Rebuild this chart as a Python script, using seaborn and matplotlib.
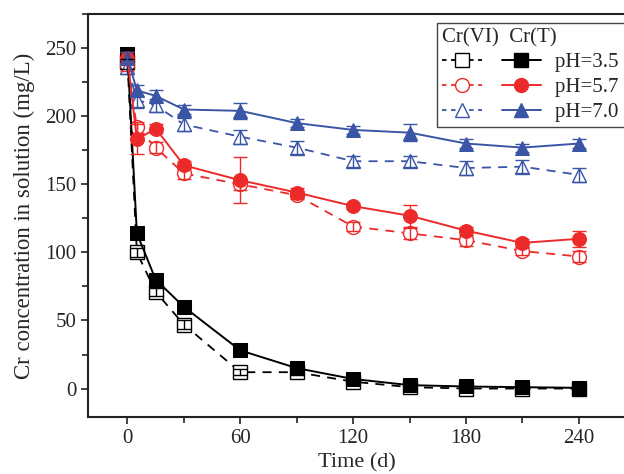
import seaborn as sns
import numpy as np
import pandas as pd
import matplotlib.pyplot as plt
from matplotlib.ticker import MultipleLocator

# time points (days)
time = [0, 5, 15, 30, 60, 90, 120, 150, 180, 210, 240]

# Cr(T) - solid lines, filled markers
crt_35 = [246, 114, 80, 60, 28, 15, 7, 2.5, 1.5, 1, 0.5]
crt_57 = [243, 183, 191, 164, 153, 144, 134, 127, 116, 107, 110]
crt_70 = [243, 219, 215, 205, 204, 195, 190, 188, 180, 177, 180]
crt_35_err = [4, 3, 3, 2, 2, 2, 2, 1, 1, 1, 1]
crt_57_err = [4, 11, 3, 3, 17, 3, 2, 8, 3, 3, 6]
crt_70_err = [4, 4, 4, 3, 6, 3, 3, 6, 3, 3, 3]

# Cr(VI) - dashed lines, open markers
crvi_35 = [240, 100, 71, 47, 12, 12, 5, 1, 0, 0, 0]
crvi_57 = [238, 192, 177, 158, 150, 142, 119, 114, 109, 101, 97]
crvi_70 = [236, 212, 208, 194, 185, 177, 167, 167, 162, 163, 157]
crvi_35_err = [5, 3, 3, 3, 2, 2, 2, 1, 1, 1, 1]
crvi_57_err = [5, 4, 4, 4, 4, 3, 3, 4, 4, 3, 4]
crvi_70_err = [5, 6, 5, 5, 5, 5, 4, 4, 5, 5, 5]

ph_labels = ["pH=3.5 ", "pH=5.7 ", "pH=7.0 "]
colors = ["black", "#ED2A2A", "#3A55A6"]
markers = ["s", "o", "^"]

sns.set_style("ticks")
plt.rcParams['font.family'] = ['Liberation Serif', 'DejaVu Serif']

fig, ax = plt.subplots(figsize=(6.24, 4.74), dpi=100)
fig.subplots_adjust(left=0.141, right=1.003, bottom=0.12, top=0.97)

vi_handles = []
t_handles = []
for i in range(3):
    c = colors[i]
    m = markers[i]
    vi = [crvi_35, crvi_57, crvi_70][i]
    vi_e = [crvi_35_err, crvi_57_err, crvi_70_err][i]
    tt = [crt_35, crt_57, crt_70][i]
    tt_e = [crt_35_err, crt_57_err, crt_70_err][i]

    ax.errorbar(time, vi, yerr=vi_e, fmt='none', ecolor=c, elinewidth=1.0,
                capsize=5, capthick=1.0, zorder=3)
    sns.lineplot(x=time, y=vi, ax=ax, color=c, linestyle=(0, (5, 4)), linewidth=1.3,
                 marker=m, markersize=10, markerfacecolor='white', markeredgecolor=c,
                 markeredgewidth=1.0, zorder=2)
    ax.errorbar(time, tt, yerr=tt_e, fmt='none', ecolor=c, elinewidth=1.0,
                capsize=5, capthick=1.0, zorder=5)
    sns.lineplot(x=time, y=tt, ax=ax, color=c, linestyle='-', linewidth=1.4,
                 marker=m, markersize=10, markerfacecolor=c, markeredgecolor=c,
                 zorder=4)

    vi_handles.append(plt.Line2D([], [], color=c, linestyle=(0, (2.5, 2.5)), linewidth=1.3,
                                 marker=m, markersize=10, markerfacecolor='white',
                                 markeredgecolor=c))
    t_handles.append(plt.Line2D([], [], color=c, linestyle='-', linewidth=1.4,
                                marker=m, markersize=10, markerfacecolor=c,
                                markeredgecolor=c))

ax.set_xlim(-21, 265)
ax.set_ylim(-21, 275)
ax.xaxis.set_major_locator(MultipleLocator(60))
ax.xaxis.set_minor_locator(MultipleLocator(30))
ax.yaxis.set_major_locator(MultipleLocator(50))
ax.yaxis.set_minor_locator(MultipleLocator(25))
ax.tick_params(axis='both', which='major', direction='out', length=5, width=1.2,
               labelsize=15, color='#222222')
ax.tick_params(axis='both', which='minor', direction='out', length=4, width=1.2,
               color='#222222')
for s in ax.spines.values():
    s.set_linewidth(1.5)
    s.set_color('#222222')

ax.set_xlabel("Time (d)", fontsize=16, labelpad=4)
ax.set_ylabel("Cr concentration in solution (mg/L)", fontsize=16.5, labelpad=7)

leg = ax.legend(vi_handles + t_handles, ["", "", ""] + ph_labels, ncol=2,
                title="Cr(VI)  Cr(T)", loc='upper left', bbox_to_anchor=(0.649, 0.978),
                borderaxespad=0, fontsize=15, title_fontsize=15, handlelength=1.9,
                columnspacing=0.3, handletextpad=0.65, labelspacing=0.25, borderpad=0.25,
                fancybox=False, frameon=True, edgecolor='#444444', framealpha=1)
leg._legend_box.align = "left"
leg.get_frame().set_linewidth(1.0)

plt.savefig("out.png", dpi=100)
